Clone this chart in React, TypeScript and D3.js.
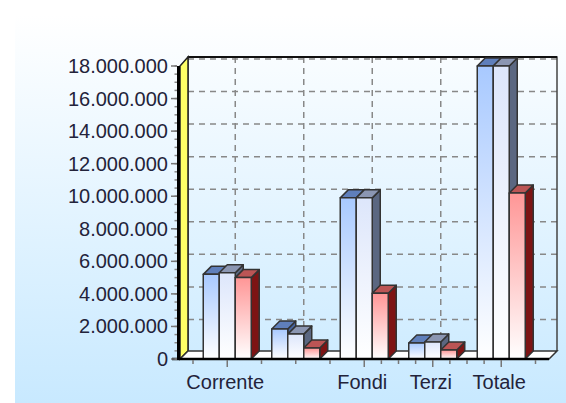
import React from 'react';
import * as d3 from 'd3';

const categories = ['Corrente', '', 'Fondi', 'Terzi', 'Totale'];
const series = ['a', 'b', 'c'];
const seriesA = [5200000, 1840000, 9900000, 980000, 18000000];
const seriesB = [5300000, 1530000, 9900000, 1050000, 18000000];
const seriesC = [5000000, 670000, 4040000, 550000, 10200000];
const yTicks = d3.range(0, 18000001, 2000000);
const yMinorTicks = d3.range(0, 18000001, 500000);
// ticks on the category axis, in category units (0 = left edge of first band)
const longTicks = [0.5, 2.5, 3.5, 4.5];
const shortTicks = [0, 1, 1.5, 2, 2.75, 3, 3.25, 3.75, 4, 4.25, 5];

const frontFill = ['#a8c9ff', '#dde6fb', '#ff9696'];
const topFill = ['#5f7fbb', '#8b96b2', '#bb5555'];
const sideFill = ['#47659f', '#5b6781', '#7d1414'];

const width = 566;
const height = 403;
const dx = 8;
const dy = 8;
const barWidth = 16;
const stroke = '#333';

const x = d3.scaleBand<string>().domain(categories.map((c, i) => i + c)).range([193, 535.5]);
const tickX = d3.scaleLinear().domain([0, 5]).range([193, 535.5]);
const inner = d3.scaleBand<string>().domain(series).range([-barWidth * 1.5, barWidth * 1.5]);
const y = d3.scaleLinear().domain([0, 18000000]).range([359, 66]);
const fmt = (v: number) => d3.format(',')(v).replace(/,/g, '.');

const left = 180;
const right = 549;
const base = y(0);
const poly = (pts: number[][]) => pts.map(p => p.join(',')).join(' ');

export default function App() {
  const values = [seriesA, seriesB, seriesC];
  const font = { fontFamily: '"Liberation Sans", Arial, sans-serif', fontSize: 20, fill: '#23233a' };
  return (
    <svg width={width} height={height} style={{ position: 'absolute', left: 0, top: 0 }}>
      <defs>
        <linearGradient id="bg" x1="0" y1="0" x2="0" y2="1">
          <stop offset="0" stopColor="#ffffff" />
          <stop offset="1" stopColor="#c8e9ff" />
        </linearGradient>
        {frontFill.map((c, i) => (
          <linearGradient key={c} id={'bar' + i} x1="0" y1="0" x2="0" y2="1">
            <stop offset="0" stopColor={c} />
            <stop offset="1" stopColor="#ffffff" />
          </linearGradient>
        ))}
      </defs>
      <rect x={15} y={15} width={width - 15} height={height - 15} fill="url(#bg)" />

      {/* back wall grid */}
      {yTicks.slice(1).map(t => (
        <line key={t} x1={left + dx} x2={right + dx} y1={y(t) - dy + 1} y2={y(t) - dy + 1}
          stroke="#888" strokeWidth={1.5} strokeDasharray="6 5" />
      ))}
      {categories.map((c, i) => (
        <line key={i} x1={tickX(i + 0.5) + dx} x2={tickX(i + 0.5) + dx} y1={57} y2={base - dy}
          stroke="#888" strokeWidth={1.5} strokeDasharray="6 5" />
      ))}
      <path d={`M${left + dx},${base - dy}V57H${right + dx}V${base - dy}`} fill="none" stroke="#444" strokeWidth={1.5} />
      <line x1={left + dx} x2={right + dx} y1={57} y2={57} stroke="#111" strokeWidth={2} />

      {/* left wall and floor */}
      <polygon points={poly([[left, base], [left + dx, base - dy], [left + dx, 57], [left, 66]])}
        fill="#ffff66" stroke="#222" strokeWidth={1.5} />
      <polygon points={poly([[left, base], [left + dx, base - dy], [right + dx, base - dy], [right, base]])}
        fill="#ffffff" stroke="#333" strokeWidth={1.5} />

      {/* bars */}
      {categories.map((c, i) => (
        <g key={i}>
          {series.map((s, j) => {
            const x0 = x(i + c)! + x.bandwidth() / 2 + inner(s)!;
            const x1 = x0 + barWidth;
            const top = y(values[j][i]);
            return (
              <g key={s} stroke={stroke} strokeWidth={1.5} strokeLinejoin="round">
                <polygon points={poly([[x1, top], [x1 + dx, top - dy], [x1 + dx, base - dy], [x1, base]])} fill={sideFill[j]} />
                <polygon points={poly([[x0, top], [x0 + dx, top - dy], [x1 + dx, top - dy], [x1, top]])} fill={topFill[j]} />
                <rect x={x0} y={top} width={barWidth} height={base - top} fill={`url(#bar${j})`} />
              </g>
            );
          })}
        </g>
      ))}

      {/* axes */}
      <line x1={178.5} x2={178.5} y1={66} y2={base + 1} stroke="#000" strokeWidth={3} />
      <line x1={172} x2={right} y1={base} y2={base} stroke="#000" strokeWidth={2.5} />
      {yMinorTicks.map(t => (
        <line key={t} x1={174.5} x2={177} y1={y(t)} y2={y(t)} stroke="#888" strokeWidth={1.5} />
      ))}
      {yTicks.map(t => (
        <g key={t}>
          <line x1={171} x2={177} y1={y(t)} y2={y(t)} stroke="#777" strokeWidth={1.5} />
          <text x={168} y={y(t) + 7} textAnchor="end" {...font}>{fmt(t)}</text>
        </g>
      ))}
      {shortTicks.map(t => (
        <line key={t} x1={tickX(t)} x2={tickX(t)} y1={base + 1} y2={base + 5} stroke="#777" strokeWidth={1.5} />
      ))}
      {longTicks.map(t => (
        <line key={t} x1={tickX(t)} x2={tickX(t)} y1={base + 1} y2={base + 8} stroke="#777" strokeWidth={1.5} />
      ))}
      {categories.map((c, i) => (
        <text key={i} x={tickX(i + 0.5) - 2} y={389} textAnchor="middle" {...font}>{c}</text>
      ))}
    </svg>
  );
}
